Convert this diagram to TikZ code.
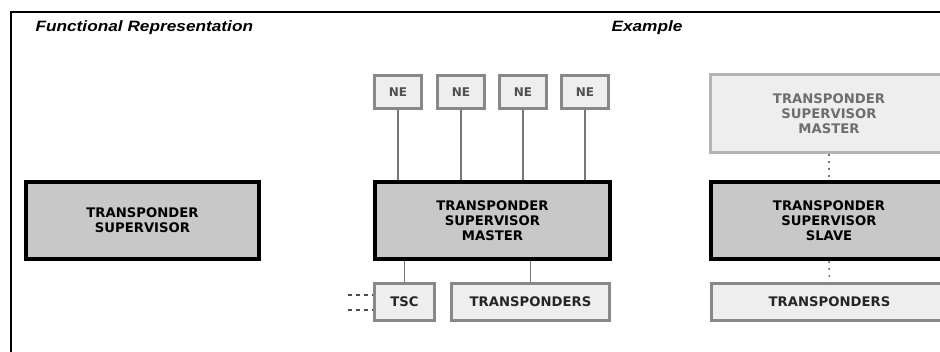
\documentclass[tikz,border=0pt]{standalone}
\usepackage{fontspec}
\setmainfont{DejaVu Sans}
\newfontfamily\titlefont{Liberation Sans}
\usepackage{graphicx}
\definecolor{darkfill}{HTML}{C8C8C8}
\definecolor{lightfill}{HTML}{EEEEEE}
\definecolor{lightborder}{HTML}{888888}
\definecolor{paleborder}{HTML}{B4B4B4}
\definecolor{paletext}{HTML}{6E6E6E}
\definecolor{netext}{HTML}{505050}
\definecolor{linkgray}{HTML}{777777}
\tikzset{
  lbl/.style={font=\fontsize{13.2}{15}\selectfont\bfseries, align=center},
  mainbox/.style={lbl, draw=black, line width=4pt, fill=darkfill, inner sep=0pt},
  subbox/.style={lbl, draw=lightborder, line width=3pt, fill=lightfill, inner sep=0pt, text=black!85},
  palebox/.style={lbl, draw=paleborder, line width=3pt, fill=lightfill, inner sep=0pt, text=paletext},
  nebox/.style={subbox, font=\fontsize{12}{14}\selectfont\bfseries, text=netext},
  link/.style={draw=linkgray, line width=1.5pt},
  dotlink/.style={draw=linkgray, line width=1.5pt, dash pattern=on 2pt off 5pt},
  dashlink/.style={draw=black!70, line width=1.2pt, dash pattern=on 4pt off 4pt},
  title/.style={font=\titlefont\fontsize{15}{17}\selectfont\bfseries\itshape}
}
\begin{document}
\begin{tikzpicture}[x=1pt,y=-1pt]
\useasboundingbox (0,0) rectangle (940,352);
\clip (0,0) rectangle (940,352);
% frame
\draw[line width=2pt] (11,352) -- (11,12) -- (942,12);
% titles
\node[title, anchor=west] (t1) at (32,28) {\scalebox{1.15}[1]{Functional Representation}};
\node[title] (t2) at (647,28) {\scalebox{1.15}[1]{Example}};
% functional representation
\node[mainbox, minimum width=233pt, minimum height=77pt] (ts) at (142.5,220.5) {TRANSPONDER\\SUPERVISOR};
% example middle
\node[mainbox, minimum width=235pt, minimum height=77pt] (master) at (492.5,220.5) {TRANSPONDER\\SUPERVISOR\\MASTER};
\foreach \i/\x in {1/398,2/461,3/523,4/585}{
  \node[nebox, minimum width=47pt, minimum height=33pt] (ne\i) at (\x,92) {NE};
  \draw[link] (ne\i.south) -- (ne\i.south |- master.north);
}
\node[subbox, minimum width=60pt, minimum height=37pt] (tsc) at (404.5,302) {TSC};
\node[subbox, minimum width=158pt, minimum height=37pt] (tr1) at (530.5,302) {TRANSPONDERS};
\draw[link] (tsc.north) -- (tsc.north |- master.south);
\draw[link] (tr1.north) -- (tr1.north |- master.south);
\coordinate (d1) at (348,295);
\coordinate (d2) at (348,310);
\draw[dashlink] (d1) -- (d1 -| tsc.west);
\draw[dashlink] (d2) -- (d2 -| tsc.west);
% example right
\node[palebox, minimum width=237pt, minimum height=78pt] (rmaster) at (829,113.5) {TRANSPONDER\\SUPERVISOR\\MASTER};
\node[mainbox, minimum width=236pt, minimum height=77pt] (slave) at (829,220.5) {TRANSPONDER\\SUPERVISOR\\SLAVE};
\node[subbox, minimum width=236pt, minimum height=37pt] (tr2) at (829.5,302) {TRANSPONDERS};
\draw[dotlink] (rmaster.south) -- (slave.north);
\draw[dotlink] (slave.south) -- (tr2.north);
\end{tikzpicture}
\end{document}
